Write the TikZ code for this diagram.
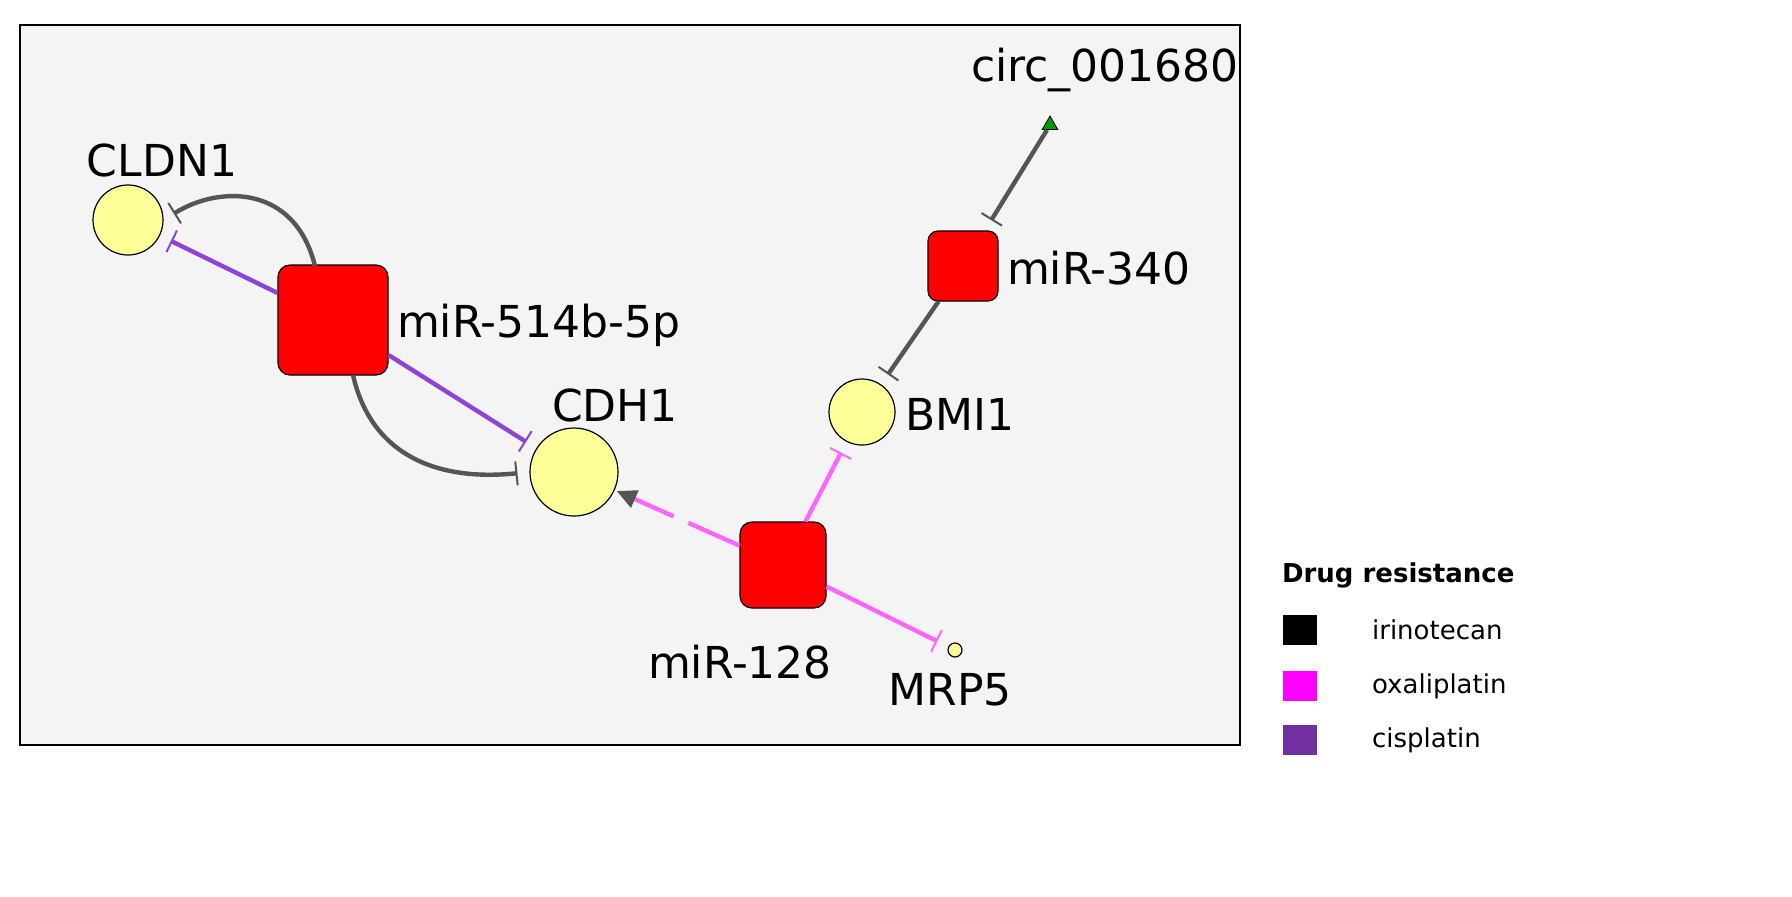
\documentclass[tikz,border=0pt]{standalone}
\usepackage{fontspec}
\setmainfont{DejaVu Sans}
\usetikzlibrary{arrows.meta,shapes.geometric,calc}
\definecolor{pbg}{HTML}{F4F4F4}
\definecolor{ygene}{HTML}{FFFF99}
\definecolor{edgegray}{HTML}{555555}
\definecolor{cispl}{HTML}{8E44D6}
\definecolor{oxa}{HTML}{FF66FF}
\definecolor{legox}{HTML}{FF00FF}
\definecolor{legcis}{HTML}{7030A0}
\begin{document}
\begin{tikzpicture}[x=0.5pt,y=-0.5pt,
  gene/.style={circle,draw=black,fill=ygene,inner sep=0,line width=0.6pt},
  mir/.style={rectangle,rounded corners=6pt,draw=black,fill=red,inner sep=0,line width=0.6pt},
  lab/.style={font=\fontsize{22}{24}\selectfont},
  inh/.style={line width=2.2pt,-{Bar[width=12pt,line width=1pt]},shorten >=6pt},
  leg/.style={font=\fontsize{13}{15}\selectfont,anchor=west}]
\useasboundingbox (0,0) rectangle (1792,896);
\draw[fill=pbg,line width=0.8pt] (20,25) rectangle (1240,745);
% nodes
\node[gene,minimum size=35pt] (cldn1) at (128,220) {};
\node[mir,minimum size=55pt] (m514) at (333,320) {};
\node[gene,minimum size=44pt] (cdh1) at (574,472) {};
\node[gene,minimum size=33pt] (bmi1) at (862,412) {};
\node[mir,minimum size=35pt,rounded corners=5pt] (m340) at (963,266) {};
\node[regular polygon,regular polygon sides=3,draw=black,fill=green!60!black,inner sep=0,minimum size=9pt] (circ) at (1050,125) {};
\node[mir,minimum size=43pt] (m128) at (783,565) {};
\node[gene,minimum size=7pt] (mrp5) at (955,650) {};
% labels
\node[lab] (lcldn1) at (162,160) {CLDN1};
\node[lab,anchor=west] (l514) at (390,325) {miR-514b-5p};
\node[lab] (lcdh1) at (615,405) {CDH1};
\node[lab,anchor=west] (lbmi1) at (898,414) {BMI1};
\node[lab,anchor=west] (l340) at (1000,268) {miR-340};
\node[lab] (lcirc) at (1105,70) {circ\_001680};
\node[lab] (l128) at (740,662) {miR-128};
\node[lab] (lmrp5) at (950,690) {MRP5};
% edges
\draw[inh,cispl] (m514) -- (cldn1);
\draw[inh,cispl] (m514) -- (cdh1);
\coordinate (a1) at (315,266);
\coordinate (a2) at (353,375);
\draw[inh,edgegray] (a1) .. controls (295,185) and (220,185) .. (cldn1.east);
\draw[inh,edgegray] (a2) .. controls (370,450) and (430,482) .. (cdh1.west);
\draw[line width=2.2pt,oxa,dash pattern=on 28pt off 8pt,-{Triangle[length=10pt,width=9pt,color=edgegray]},shorten >=1pt] (m128) -- (cdh1);
\draw[inh,oxa] (m128) -- (bmi1);
\draw[inh,oxa] (m128) -- (mrp5);
\draw[inh,edgegray] (circ) -- (m340);
\draw[inh,edgegray] (m340) -- (bmi1);
% legend
\node[font=\bfseries\fontsize{13}{15}\selectfont,anchor=west] (lt) at (1275,575) {Drug resistance};
\node[fill=black,minimum width=17pt,minimum height=15pt,inner sep=0] (s1) at (1300,630) {};
\node[fill=legox,minimum width=17pt,minimum height=15pt,inner sep=0] (s2) at (1300,686) {};
\node[fill=legcis,minimum width=17pt,minimum height=15pt,inner sep=0] (s3) at (1300,740) {};
\node[leg] at (1365,630) {irinotecan};
\node[leg] at (1365,686) {oxaliplatin};
\node[leg] at (1365,740) {cisplatin};
\end{tikzpicture}
\end{document}
